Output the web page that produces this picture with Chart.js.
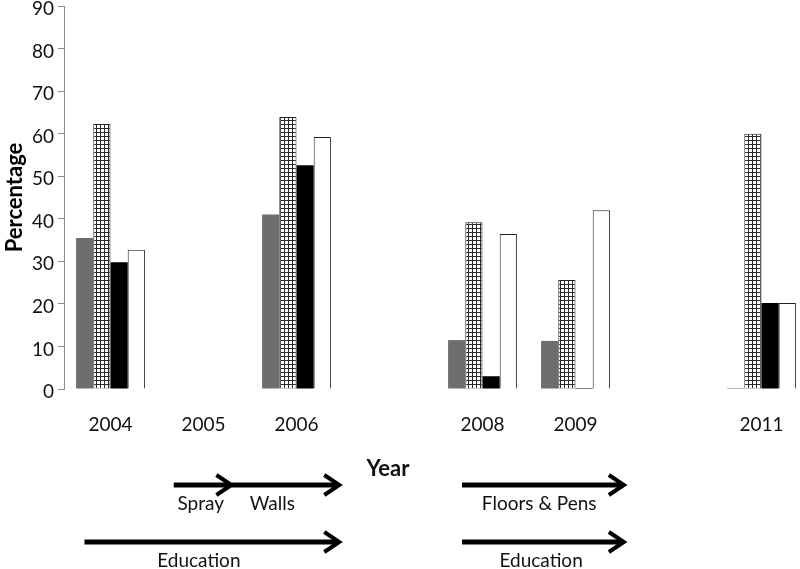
<!DOCTYPE html>
<html>
<head>
<meta charset="utf-8">
<script src="https://cdn.jsdelivr.net/npm/chart.js@4/dist/chart.umd.min.js"></script>
<style>
  html, body { margin: 0; padding: 0; background: #fff; overflow: hidden; }
  #wrap { width: 820px; height: 569px; }
</style>
</head>
<body>
<div id="wrap"><canvas id="barChart" width="820" height="569"></canvas></div>
<script>
const years = ['2004', '2005', '2006', '2007', '2008', '2009', '2010', '2011']
const tickLabels = ['2004', '2005', '2006', '', '2008', '2009', '', '2011']
const yTicks = [0, 10, 20, 30, 40, 50, 60, 70, 80, 90]

const grayValues = [35.5, null, 41, null, 11.5, 11.3, null, 0]
const hatchValues = [62.3, null, 63.9, null, 39.2, 25.6, null, 60]
const blackValues = [29.8, null, 52.6, null, 3, 0, null, 20.2]
const whiteValues = [32.7, null, 59.2, null, 36.4, 42, null, 20.2]

// interventions under the axis, in years
const arrowFrom = [2004.68, 2005.30, 2003.72, 2007.78, 2007.78]
const arrowTo = [2005.30, 2006.46, 2006.46, 2009.52, 2009.52]
const arrowRow = [0, 0, 1, 0, 1]
const noteText = ['Spray', 'Walls', 'Education', 'Floors & Pens', 'Education']
const noteAt = [2004.97, 2005.74, 2004.95, 2008.61, 2008.63]
const noteRow = [0, 0, 1, 0, 1]

const FONT = 'Lato, "Open Sans", sans-serif'

function hatchPattern (ctx) {
  const c = document.createElement('canvas')
  c.width = 4
  c.height = 4
  const g = c.getContext('2d')
  g.fillStyle = '#fff'
  g.fillRect(0, 0, 4, 4)
  g.fillStyle = '#2a2a2a'
  g.fillRect(0, 0, 4, 1)
  g.fillRect(0, 0, 1, 4)
  return ctx.createPattern(c, 'repeat')
}

const timeline = {
  id: 'timeline',
  afterDraw (chart) {
    const ctx = chart.ctx
    const x = chart.scales.x
    const px = yr => x.getPixelForValue(yr - 2004)
    const arrowY = [485, 542]
    const textY = [504, 561]
    ctx.save()
    ctx.strokeStyle = '#000'
    ctx.lineCap = 'butt'
    ctx.lineJoin = 'miter'
    arrowFrom.forEach((f, i) => {
      const x1 = px(f)
      const x2 = px(arrowTo[i])
      const y = arrowY[arrowRow[i]]
      ctx.lineWidth = 5
      ctx.beginPath()
      ctx.moveTo(x1, y)
      ctx.lineTo(x2 - 3, y)
      ctx.stroke()
      ctx.lineWidth = 4
      ctx.beginPath()
      ctx.moveTo(x2 - 15, y - 10)
      ctx.lineTo(x2, y)
      ctx.lineTo(x2 - 15, y + 10)
      ctx.stroke()
    })
    ctx.fillStyle = '#111'
    ctx.textAlign = 'center'
    ctx.textBaseline = 'middle'
    ctx.font = '19px ' + FONT
    noteText.forEach((t, i) => {
      ctx.fillText(t, px(noteAt[i]), textY[noteRow[i]])
    })
    ctx.font = 'bold 22px ' + FONT
    ctx.fillText('Year', 388, 469)
    ctx.restore()
  }
}

const canvas = document.getElementById('barChart')
const ctx = canvas.getContext('2d')

const myChart = new Chart(ctx, {
  type: 'bar',
  data: {
    labels: years,
    datasets: [
      { data: grayValues, backgroundColor: '#6e6e6e', borderWidth: 0, minBarLength: 1 },
      { data: hatchValues, backgroundColor: hatchPattern(ctx), borderColor: '#222', borderWidth: 1, minBarLength: 1 },
      { data: blackValues, backgroundColor: '#000', borderColor: '#000', borderWidth: 0, minBarLength: 1 },
      { data: whiteValues, backgroundColor: '#fff', borderColor: '#222', borderWidth: 1, minBarLength: 1 }
    ]
  },
  options: {
    responsive: false,
    animation: false,
    layout: { padding: { top: 0, right: 12, bottom: 0, left: 0 } },
    categoryPercentage: 0.74,
    barPercentage: 1,
    plugins: {
      legend: { display: false },
      tooltip: { enabled: false }
    },
    scales: {
      x: {
        grid: { display: false, drawTicks: false },
        border: { display: false },
        ticks: {
          autoSkip: false,
          maxRotation: 0,
          padding: 24,
          color: '#111',
          font: { family: FONT, size: 19 },
          callback: (v, i) => tickLabels[i]
        },
        afterFit: s => { s.height = 180 }
      },
      y: {
        min: 0,
        max: 90,
        afterBuildTicks: s => { s.ticks = yTicks.map(v => ({ value: v })) },
        grid: { drawOnChartArea: false, drawTicks: true, tickLength: 6, color: '#8c8c8c' },
        border: { color: '#8c8c8c', width: 1 },
        ticks: {
          padding: 4,
          labelOffset: 3,
          color: '#111',
          font: { family: FONT, size: 19 }
        },
        title: {
          display: true,
          text: 'Percentage',
          color: '#000',
          padding: { top: 2, bottom: 0 },
          font: { family: FONT, size: 22, weight: 'bold' }
        },
        afterFit: s => { s.width = 64; s.paddingTop = 6 }
      }
    }
  },
  plugins: [timeline]
})
</script>
</body>
</html>
